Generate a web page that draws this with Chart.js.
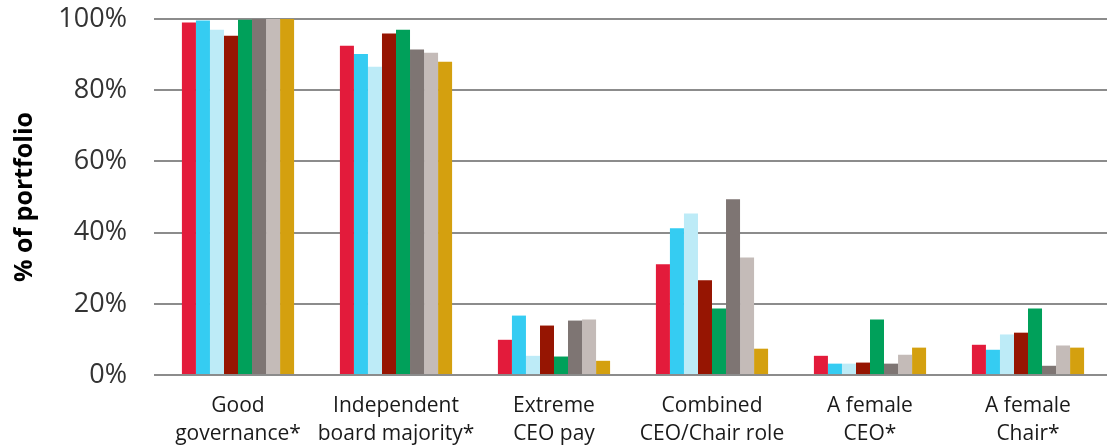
<!DOCTYPE html>
<html>
<head>
<meta charset="utf-8">
<script src="https://cdn.jsdelivr.net/npm/chart.js@4/dist/chart.umd.min.js"></script>
<style>
  html, body { margin: 0; padding: 0; background: #fff; }
  #wrap { width: 1107px; height: 447px; }
</style>
</head>
<body>
<div id="wrap"><canvas id="c" width="1107" height="447"></canvas></div>
<script>
// Governance characteristics, share of each portfolio (%)
const categories = [
  ["Good", "governance*"],
  ["Independent", "board majority*"],
  ["Extreme", "CEO pay"],
  ["Combined", "CEO/Chair role"],
  ["A female", "CEO*"],
  ["A female", "Chair*"]
];

const seriesNames = ["Portfolio 1", "Portfolio 2", "Portfolio 3", "Portfolio 4",
                     "Portfolio 5", "Portfolio 6", "Portfolio 7", "Portfolio 8"];

const portfolio1 = [99.0, 92.5, 9.9, 31.1, 5.4, 8.5];
const portfolio2 = [99.6, 90.2, 16.7, 41.2, 3.2, 7.1];
const portfolio3 = [97.0, 86.6, 5.4, 45.4, 3.2, 11.4];
const portfolio4 = [95.3, 95.9, 13.9, 26.6, 3.5, 11.9];
const portfolio5 = [99.8, 97.0, 5.2, 18.7, 15.6, 18.7];
const portfolio6 = [100, 91.4, 15.3, 49.4, 3.2, 2.6];
const portfolio7 = [100, 90.5, 15.6, 33.0, 5.7, 8.3];
const portfolio8 = [100, 88.0, 4.0, 7.4, 7.7, 7.7];

const yTicks = [0, 20, 40, 60, 80, 100];

const colors = ["#E31B3B", "#35CCF2", "#BDEBF7", "#961502",
                "#00A05A", "#7E7573", "#C4BBB8", "#D4A00F"];

const values = [portfolio1, portfolio2, portfolio3, portfolio4,
                portfolio5, portfolio6, portfolio7, portfolio8];

const datasets = values.map((v, i) => ({
  label: seriesNames[i],
  data: v,
  backgroundColor: colors[i],
  borderWidth: 0,
  categoryPercentage: 0.71,
  barPercentage: 1.0
}));

Chart.defaults.font.family = "'Open Sans', 'Liberation Sans', sans-serif";

new Chart(document.getElementById("c"), {
  type: "bar",
  data: { labels: categories, datasets },
  options: {
    responsive: false,
    animation: false,
    layout: { padding: { left: 10, right: -19, top: 19, bottom: -10 } },
    plugins: {
      legend: { display: false },
      tooltip: { enabled: false }
    },
    scales: {
      x: {
        grid: { display: false },
        border: { display: false },
        ticks: {
          color: "#1a1a1a",
          font: { size: 21, lineHeight: 1.38 },
          padding: 8,
          maxRotation: 0,
          autoSkip: false
        }
      },
      y: {
        min: 0,
        max: 100,
        afterBuildTicks: (scale) => { scale.ticks = yTicks.map(v => ({ value: v })); },
        afterFit: (scale) => {
          scale.width = 149;
          scale.paddingTop = 0;
          scale.paddingBottom = 0;
        },
        grid: {
          color: "#8c8c8c",
          lineWidth: 2,
          tickLength: 5,
          tickColor: "#8c8c8c"
        },
        border: { display: false },
        ticks: {
          color: "#333333",
          font: { size: 27 },
          padding: 27,
          callback: (v) => v + "%"
        },
        title: {
          display: true,
          text: "% of portfolio",
          color: "#000",
          font: { size: 25, weight: "bold" },
          padding: { top: 0, bottom: 0 }
        }
      }
    }
  }
});
</script>
</body>
</html>
